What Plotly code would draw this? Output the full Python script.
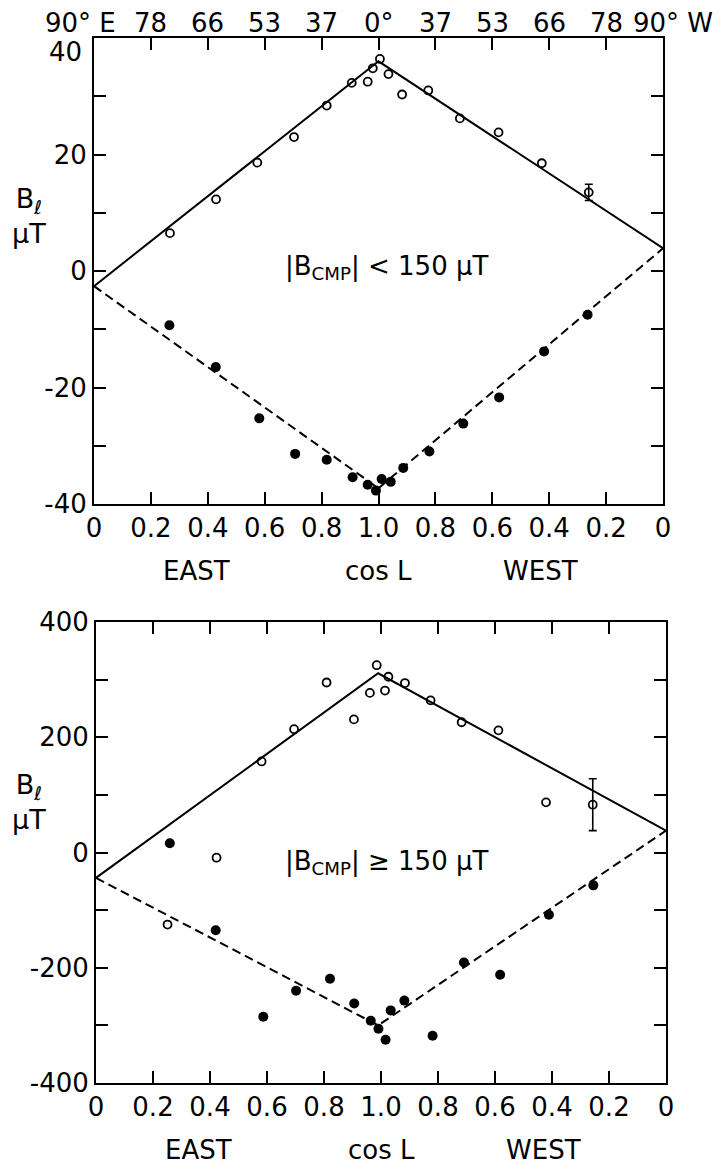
import plotly.graph_objects as go

# ---------------- data (cos L, B_l in microtesla) ----------------
# Top panel |B_CMP| < 150 uT
top_open_east_cos = [0.267, 0.429, 0.574, 0.703, 0.818, 0.906, 0.962, 0.980]
top_open_east_B = [6.5, 12.3, 18.6, 23.0, 28.4, 32.3, 32.5, 34.8]
top_open_west_cos = [0.995, 0.965, 0.917, 0.825, 0.714, 0.578, 0.426, 0.261]
top_open_west_B = [36.4, 33.8, 30.3, 31.0, 26.2, 23.8, 18.5, 13.5]
top_open_west_err = [0, 0, 0, 0, 0, 0, 0, 1.4]

top_fill_east_cos = [0.265, 0.428, 0.581, 0.707, 0.818, 0.909, 0.962, 0.991]
top_fill_east_B = [-9.3, -16.5, -25.3, -31.4, -32.4, -35.4, -36.7, -37.7]
top_fill_west_cos = [0.989, 0.957, 0.913, 0.821, 0.702, 0.576, 0.418, 0.265]
top_fill_west_B = [-35.7, -36.2, -33.8, -31.0, -26.2, -21.7, -13.8, -7.5]

# fit lines: positions (east limb, centre, west limb)
top_fit_pos = [0.0, 1.0, 2.0]
top_fit_pos_B = [-2.6, 36.0, 3.9]
top_fit_neg_B = [-2.6, -37.3, 3.9]

# Bottom panel |B_CMP| >= 150 uT
bot_open_east_cos = [0.251, 0.423, 0.581, 0.695, 0.809, 0.905, 0.961, 0.985]
bot_open_east_B = [-125, -9, 158, 214, 295, 231, 277, 325]
bot_open_west_cos = [0.986, 0.974, 0.916, 0.826, 0.717, 0.588, 0.421, 0.257]
bot_open_west_B = [281, 305, 294, 264, 226, 212, 87, 83]
bot_open_west_err = [0, 0, 0, 0, 0, 0, 0, 45]

bot_fill_east_cos = [0.259, 0.420, 0.587, 0.702, 0.821, 0.906, 0.964, 0.991]
bot_fill_east_B = [16, -135, -285, -240, -219, -262, -292, -306]
bot_fill_west_cos = [0.984, 0.966, 0.918, 0.819, 0.709, 0.582, 0.411, 0.255]
bot_fill_west_B = [-325, -274, -257, -318, -191, -212, -108, -57]

bot_fit_pos = [0.0, 0.99, 2.0]
bot_fit_pos_B = [-44, 311, 38]
bot_fit_neg_B = [-44, -300, 38]

# axis tick labels
x_tickvals = [0, 0.2, 0.4, 0.6, 0.8, 1.0, 1.2, 1.4, 1.6, 1.8, 2.0]
x_ticktext = ["0", "0.2", "0.4", "0.6", "0.8", "1.0", "0.8", "0.6", "0.4", "0.2", "0"]
top_deg_labels = ["90° E", "78", "66", "53", "37", "0°", "37", "53", "66", "78", "90° W"]
top_y_vals = [-40, -20, 0, 20]
top_y_text = ["-40", "-20", "0", "20"]
top_y_max_label = "40"
bot_y_vals = [-400, -200, 0, 200, 400]
bot_y_text = ["-400", "-200", "0", "200", "400"]

# ---------------- helpers ----------------
W, H = 722, 1167
FONT = "DejaVu Sans"


def east(c):
    return list(c)


def west(c):
    return [2.0 - v for v in c]


def py(p):
    return 1 - p / H


def px(p):
    return p / W


fig = go.Figure()

panels = [
    dict(xa="x", ya="y",
         oe=(top_open_east_cos, top_open_east_B), ow=(top_open_west_cos, top_open_west_B, top_open_west_err),
         fe=(top_fill_east_cos, top_fill_east_B), fw=(top_fill_west_cos, top_fill_west_B),
         fit=(top_fit_pos, top_fit_pos_B, top_fit_neg_B)),
    dict(xa="x2", ya="y2",
         oe=(bot_open_east_cos, bot_open_east_B), ow=(bot_open_west_cos, bot_open_west_B, bot_open_west_err),
         fe=(bot_fill_east_cos, bot_fill_east_B), fw=(bot_fill_west_cos, bot_fill_west_B),
         fit=(bot_fit_pos, bot_fit_pos_B, bot_fit_neg_B)),
]

for p in panels:
    xa, ya = p["xa"], p["ya"]
    fx, fpos, fneg = p["fit"]
    fig.add_trace(go.Scatter(x=fx, y=fpos, mode="lines", xaxis=xa, yaxis=ya,
                             line=dict(color="black", width=2), showlegend=False))
    fig.add_trace(go.Scatter(x=fx, y=fneg, mode="lines", xaxis=xa, yaxis=ya,
                             line=dict(color="black", width=2, dash="9px,5px"), showlegend=False))
    # filled circles (negative polarity)
    fxs = east(p["fe"][0]) + west(p["fw"][0])
    fys = list(p["fe"][1]) + list(p["fw"][1])
    fig.add_trace(go.Scatter(x=fxs, y=fys, mode="markers", xaxis=xa, yaxis=ya,
                             marker=dict(symbol="circle", size=10, color="black"), showlegend=False))
    # open circles (positive polarity)
    oxs = east(p["oe"][0]) + west(p["ow"][0])
    oys = list(p["oe"][1]) + list(p["ow"][1])
    fig.add_trace(go.Scatter(x=oxs, y=oys, mode="markers", xaxis=xa, yaxis=ya,
                             marker=dict(symbol="circle-open", size=8, color="black",
                                         line=dict(width=1.8, color="black")), showlegend=False))
    # error bars
    wc, wb, we = p["ow"]
    ex = [2.0 - c for c, e in zip(wc, we) if e > 0]
    ey = [b for b, e in zip(wb, we) if e > 0]
    ee = [e for e in we if e > 0]
    fig.add_trace(go.Scatter(x=ex, y=ey, mode="markers", xaxis=xa, yaxis=ya,
                             marker=dict(size=1, color="rgba(0,0,0,0)"),
                             error_y=dict(type="data", array=ee, visible=True, color="black",
                                          thickness=1.6, width=4),
                             showlegend=False))

axis_common = dict(showline=True, linewidth=2, linecolor="black", mirror="ticks",
                   ticks="inside", ticklen=12, tickwidth=1.6, tickcolor="black",
                   showgrid=False, zeroline=False, automargin=False,
                   tickfont=dict(family=FONT, size=26, color="black"))

fig.update_layout(
    width=W, height=H, template="none", paper_bgcolor="white", plot_bgcolor="white",
    margin=dict(l=0, r=0, t=0, b=0),
    xaxis=dict(domain=[px(94), px(663)], range=[0, 2], tickmode="array",
               tickvals=x_tickvals, ticktext=x_ticktext, anchor="y", **axis_common),
    yaxis=dict(domain=[py(504), py(38)], range=[-40, 40], tickmode="array",
               tickvals=top_y_vals, ticktext=top_y_text, anchor="x",
               minor=dict(dtick=10, tick0=0, ticks="inside", ticklen=12, tickwidth=1.6,
                          tickcolor="black", showgrid=False),
               **axis_common),
    xaxis2=dict(domain=[px(96), px(666)], range=[0, 2], tickmode="array",
                tickvals=x_tickvals, ticktext=x_ticktext, anchor="y2", **axis_common),
    yaxis2=dict(domain=[py(1083), py(622)], range=[-400, 400], tickmode="array",
                tickvals=bot_y_vals, ticktext=bot_y_text, anchor="x2",
                minor=dict(dtick=100, tick0=0, ticks="inside", ticklen=12, tickwidth=1.6,
                           tickcolor="black", showgrid=False),
                **axis_common),
)

ann = []
# top degree labels
for v, t in zip(x_tickvals, top_deg_labels):
    shift = 0
    if t.endswith("E"):
        shift = -14
    elif t.endswith("W"):
        shift = 10
    ann.append(dict(x=v, y=py(23), xref="x", yref="paper", text=t, showarrow=False,
                    xshift=shift, font=dict(family=FONT, size=26, color="black"),
                    xanchor="center", yanchor="middle"))

# top "40" y label (set a little lower than its tick, as in the original)
ann.append(dict(x=px(84), y=py(52), xref="paper", yref="paper", text=top_y_max_label,
                showarrow=False, font=dict(family=FONT, size=26, color="black"),
                xanchor="right", yanchor="middle"))

# EAST / cos L / WEST rows
for xr, yc in (("x", 571), ("x2", 1150)):
    for v, t in ((0.36, "EAST"), (1.0, "cos L"), (1.57, "WEST")):
        ann.append(dict(x=v, y=py(yc), xref=xr, yref="paper", text=t, showarrow=False,
                        font=dict(family=FONT, size=26, color="black"),
                        xanchor="center", yanchor="middle"))

# y-axis titles
for yc in (216, 802):
    ann.append(dict(x=px(29), y=py(yc), xref="paper", yref="paper",
                    text="B<sub>ℓ</sub><br>μT", showarrow=False, align="center",
                    font=dict(family=FONT, size=27, color="black"),
                    xanchor="center", yanchor="middle"))

# inner labels
ann.append(dict(x=px(386), y=py(268), xref="paper", yref="paper",
                text="|B<sub>CMP</sub>| < 150 μT", showarrow=False,
                font=dict(family=FONT, size=26, color="black"), xanchor="center", yanchor="middle"))
ann.append(dict(x=px(386), y=py(862), xref="paper", yref="paper",
                text="|B<sub>CMP</sub>| ≥ 150 μT", showarrow=False,
                font=dict(family=FONT, size=26, color="black"), xanchor="center", yanchor="middle"))

fig.update_layout(annotations=ann)
fig.write_html("out.html")
